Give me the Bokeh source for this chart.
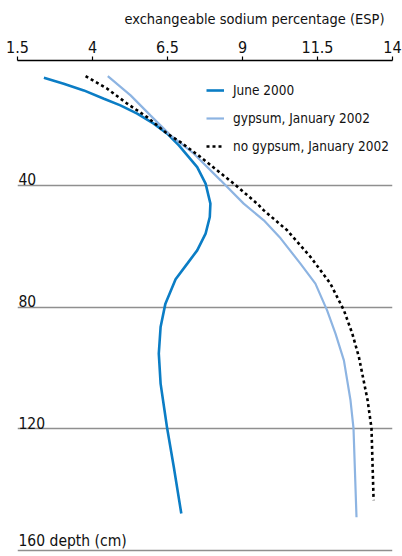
from bokeh.plotting import figure
from bokeh.models import Range1d, FixedTicker, Legend, LegendItem, ColumnDataSource, Title
from bokeh.core.properties import value
from bokeh.embed import file_html
from bokeh.resources import INLINE

FONT = "DejaVu Sans Condensed"

# ESP profiles: depth (cm) and exchangeable sodium percentage
june_depth = [4.55, 6.53, 8.73, 11.46, 13.66, 16.39, 19.67, 22.96, 26.81, 33.94, 39.4, 45.97,
              50.38, 55.84, 61.33, 65.7, 70.86, 78.85, 86.54, 95.28, 105.15, 113.92, 119.94,
              132.56, 147.88]
june_esp = [2.38, 3.04, 3.71, 4.38, 4.93, 5.49, 6.04, 6.49, 6.88, 7.49, 7.77, 7.93,
            7.91, 7.77, 7.49, 7.16, 6.77, 6.43, 6.27, 6.21, 6.27, 6.4, 6.49,
            6.71, 6.96]

gyp_depth = [4.03, 10.37, 16.95, 23.52, 29.54, 38.31, 45.97, 51.46, 57.38, 65.7, 72.27,
             81.05, 88.71, 97.49, 110.63, 119.84, 149.1]
gyp_esp = [4.51, 5.27, 5.93, 6.6, 7.38, 8.27, 9.04, 9.71, 10.27, 10.93, 11.43,
           11.82, 12.1, 12.38, 12.6, 12.7, 12.8]

nogyp_depth = [4.03, 8.17, 13.1, 17.5, 22.96, 25.72, 30.65, 39.4, 45.97, 48.18, 54.75,
               63.53, 72.27, 81.05, 88.71, 96.4, 110.63, 119.84, 143.5]
nogyp_esp = [3.77, 4.49, 5.16, 5.82, 6.49, 6.93, 7.6, 8.71, 9.49, 9.71, 10.49,
             11.27, 11.93, 12.38, 12.66, 12.88, 13.17, 13.3, 13.37]

x_ticks = [1.5, 4, 6.5, 9, 11.5, 14]
depth_ticks = [40, 80, 120, 160]
depth_labels = ["40", "80", "120", "160 depth (cm)"]

p = figure(width=402, height=556, output_backend="svg", toolbar_location=None,
           x_range=Range1d(1.5, 14), y_range=Range1d(162, -1.1),
           x_axis_location="above", y_axis_location=None,
           min_border_left=17, min_border_right=10, min_border_top=60, min_border_bottom=0,
           title_location="above")
p.outline_line_color = None
p.background_fill_color = "white"

p.title = Title(text="exchangeable sodium percentage (ESP)", align="right",
                text_font=FONT, text_font_size="14.5px", text_font_style="normal",
                text_color="#111111", offset=8, standoff=18, vertical_align="top")

ax = p.xaxis[0]
ax.ticker = FixedTicker(ticks=x_ticks)
ax.major_label_overrides = {t: (str(t) if t != int(t) else str(int(t))) for t in x_ticks}
ax.major_label_text_font = FONT
ax.major_label_text_font_size = "16px"
ax.major_label_text_color = "#111111"
ax.axis_line_color = "black"
ax.axis_line_width = 1.5
ax.major_tick_line_color = "black"
ax.major_tick_line_width = 1.2
ax.major_tick_out = 4
ax.major_tick_in = 0
ax.minor_tick_line_color = None
ax.major_label_standoff = 4

p.xgrid.grid_line_color = None
p.ygrid.ticker = FixedTicker(ticks=depth_ticks)
p.ygrid.grid_line_color = "#8f8f8f"
p.ygrid.grid_line_width = 1.5

# depth labels sit just above their gridlines at the left edge
lab = ColumnDataSource(dict(x=[1.5] * len(depth_ticks), y=depth_ticks, t=depth_labels))
p.text(x="x", y="y", text="t", source=lab, text_font=value(FONT), text_font_size="15.5px",
       text_color="#111111", text_baseline="bottom", text_align="left", x_offset=1, y_offset=0)

r1 = p.line(june_esp, june_depth, line_color="#0b7dc5", line_width=2.6)
r2 = p.line(gyp_esp, gyp_depth, line_color="#8db4e2", line_width=2.2)
r3 = p.line(nogyp_esp, nogyp_depth, line_color="black", line_width=2.6, line_dash="3 3")

legend = Legend(items=[LegendItem(label="June 2000", renderers=[r1]),
                       LegendItem(label="gypsum, January 2002", renderers=[r2]),
                       LegendItem(label="no gypsum, January 2002", renderers=[r3])],
                location=(189, 400), padding=0, margin=0, spacing=8,
                glyph_width=18, glyph_height=20, label_height=20, label_standoff=9,
                label_text_font=FONT, label_text_font_size="13.5px", label_text_color="#111111",
                border_line_color=None, background_fill_alpha=0)
p.add_layout(legend)

open("out.html", "w").write(file_html(p, INLINE))
